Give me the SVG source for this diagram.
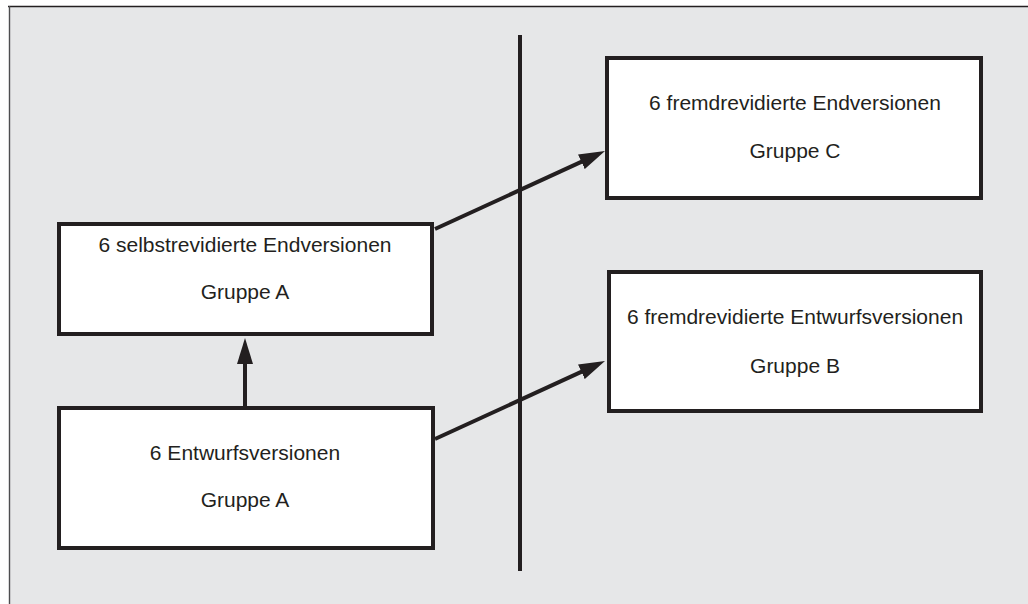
<svg xmlns="http://www.w3.org/2000/svg" width="1028" height="604" viewBox="0 0 1028 604">
<style>
.node rect{fill:#ffffff;stroke:#231f20;stroke-width:4}
.node text{font-family:"Liberation Sans",Arial,Helvetica,sans-serif;font-size:21px;fill:#231f20;text-anchor:middle}
.conn{stroke:#231f20;stroke-width:4;fill:none}
</style>
<defs>
<marker id="ah" markerUnits="userSpaceOnUse" markerWidth="26" markerHeight="16" refX="13" refY="8" orient="auto" viewBox="0 0 26 16">
<path d="M0,0 L26,8 L0,16 Z" fill="#231f20"/>
</marker>
</defs>
<rect x="0" y="0" width="1028" height="604" fill="#ffffff"/>
<rect x="9" y="6" width="1019" height="598" fill="#e6e7e8"/>
<line x1="8" y1="6.5" x2="1028" y2="6.5" stroke="#231f20" stroke-width="1.6"/>
<line x1="9.5" y1="6" x2="9.5" y2="604" stroke="#4d4d4f" stroke-width="1.4"/>
<g id="divider">
<line x1="520" y1="35" x2="520" y2="571" stroke="#231f20" stroke-width="4"/>
</g>
<g id="nodeC" class="node">
<rect x="607" y="58" width="374" height="140"/>
<text x="795" y="110">6 fremdrevidierte Endversionen</text>
<text x="795" y="158">Gruppe C</text>
</g>
<g id="nodeB" class="node">
<rect x="609" y="272" width="372" height="139"/>
<text x="795" y="324">6 fremdrevidierte Entwurfsversionen</text>
<text x="795" y="373">Gruppe B</text>
</g>
<g id="nodeA1" class="node">
<rect x="59" y="224" width="373" height="110"/>
<text x="245" y="252">6 selbstrevidierte Endversionen</text>
<text x="245" y="299">Gruppe A</text>
</g>
<g id="nodeA0" class="node">
<rect x="59" y="408" width="374" height="140"/>
<text x="245" y="460">6 Entwurfsversionen</text>
<text x="245" y="507">Gruppe A</text>
</g>
<g id="connectors">
<line class="conn" x1="435" y1="229" x2="593.2" y2="156.4" marker-end="url(#ah)"/>
<line class="conn" x1="435" y1="439" x2="593.2" y2="366.4" marker-end="url(#ah)"/>
<line class="conn" x1="245" y1="406" x2="245" y2="351" marker-end="url(#ah)"/>
</g>
</svg>
